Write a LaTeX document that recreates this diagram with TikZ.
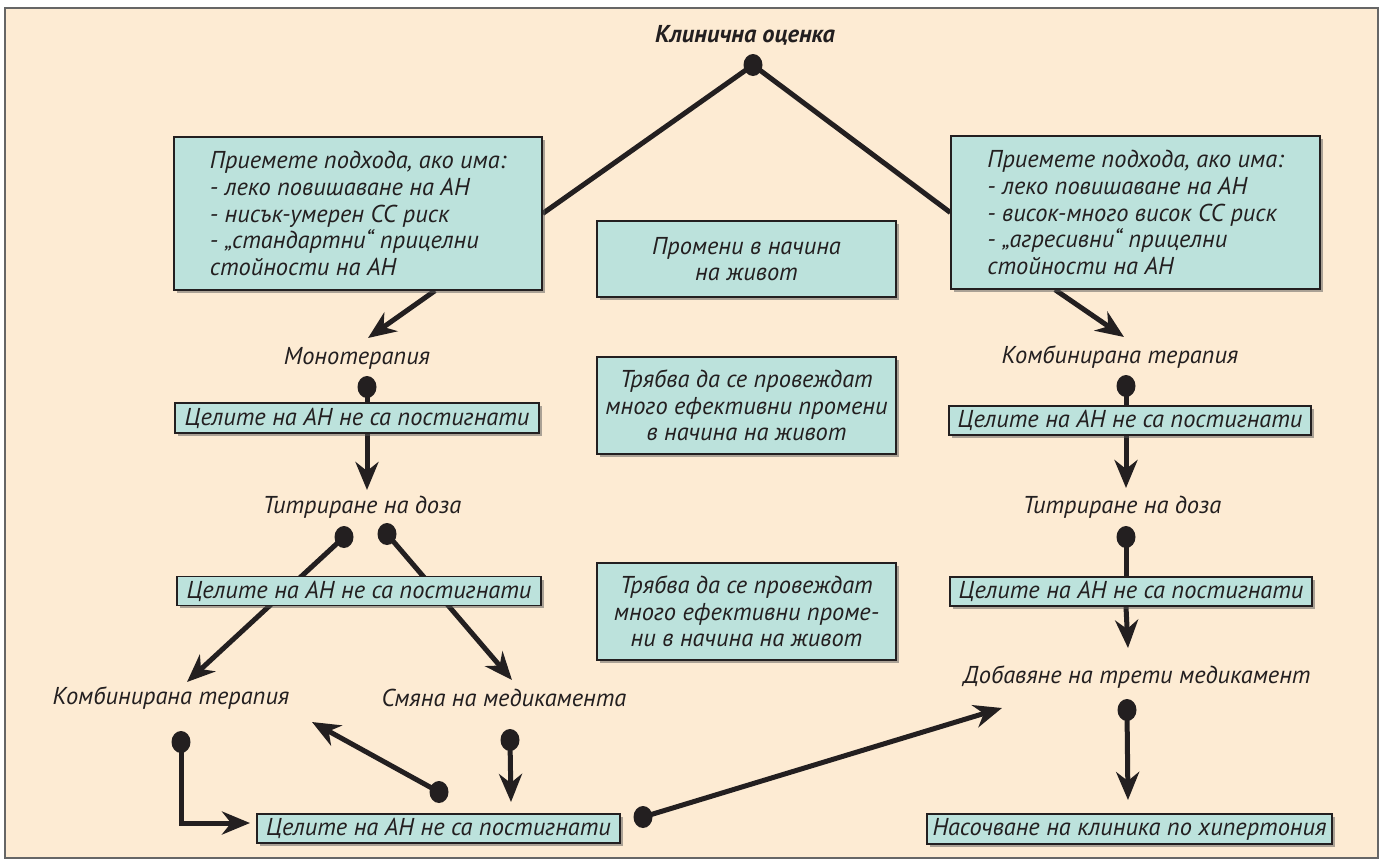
\documentclass[tikz,border=0pt]{standalone}
\usepackage{fontspec}
\setmainfont{PT Sans}
\usetikzlibrary{arrows.meta,shapes.geometric,shadows}
\definecolor{peach}{RGB}{253,235,211}
\definecolor{boxteal}{RGB}{188,226,220}
\definecolor{ink}{RGB}{35,31,32}
\newcommand{\flowsize}{\fontsize{12.2}{13.3}\selectfont}
\pgfdeclarelayer{back}
\pgfdeclarelayer{wires}
\pgfsetlayers{back,wires,main}
\tikzstyle{goalbox} = [draw=ink, fill=boxteal, line width=0.7pt, rectangle,
    drop shadow={shadow xshift=1.5pt, shadow yshift=-1.5pt, fill=black!65},
    inner sep=2pt, text=ink, font=\itshape\flowsize]
\tikzstyle{bigbox} = [goalbox, align=left]
\tikzstyle{lifebox} = [goalbox, align=center, minimum width=149.5pt]
\tikzstyle{stage} = [text=ink, font=\itshape\flowsize]
\tikzstyle{headline} = [text=ink, font=\bfseries\itshape\flowsize]
\tikzstyle{dot} = [ellipse, fill=ink, minimum width=9.5pt, minimum height=11pt, inner sep=0pt]
\tikzstyle{link} = [draw=ink, line width=2.5pt]
\tikzstyle{arrow} = [link, -{Stealth[length=14pt, width=11.5pt, inset=4.5pt]}]

\begin{document}
\begin{tikzpicture}[x=0.5pt, y=-0.5pt]
    \useasboundingbox (0,0) rectangle (1383,864);
    \begin{pgfonlayer}{back}
        \draw[draw=black!60, line width=0.8pt, fill=peach] (5,8) rectangle (1378,858);
    \end{pgfonlayer}

    % top of the tree
    \node[headline] (eval) at (745,35) {Клинична оценка};
    \node[dot] (top) at (753,65) {};
    \node[bigbox, minimum width=184pt, minimum height=76.5pt] (lowrisk) at (358,213.5) {%
        Приемете подхода, ако има:\\
        - леко повишаване на АН\\
        - нисък-умерен СС риск\\
        - „стандартни“ прицелни\\
        стойности на АН};
    \node[bigbox, minimum width=184.5pt, minimum height=76.5pt] (highrisk) at (1135.5,212.5) {%
        Приемете подхода, ако има:\\
        - леко повишаване на АН\\
        - висок-много висок СС риск\\
        - „агресивни“ прицелни\\
        стойности на АН};

    % middle column
    \node[lifebox, minimum height=38pt] (life1) at (746.5,259) {Промени в начина\\на живот};
    \node[lifebox, minimum height=48.5pt] (life2) at (746.5,405.5) {Трябва да се провеждат\\много ефективни промени\\в начина на живот};
    \node[lifebox, minimum height=48.5pt] (life3) at (746.5,611.5) {Трябва да се провеждат\\много ефективни проме-\\ни в начина на живот};

    % left branch
    \node[stage] (mono) at (357,358) {Монотерапия};
    \node[dot] (d1) at (367,387) {};
    \node[goalbox, minimum width=182pt, minimum height=15pt] (fail1) at (357,418) {Целите на АН не са постигнати};
    \node[stage] (titr1) at (362,507) {Титриране на доза};
    \node[dot] (d2) at (344,537) {};
    \node[dot] (d3) at (387,534) {};
    \node[goalbox, minimum width=182pt, minimum height=14pt] (fail2) at (359,591) {Целите на АН не са постигнати};
    \node[stage] (combo1) at (171,698) {Комбинирана терапия};
    \node[stage] (switch) at (504,698) {Смяна на медикамента};
    \node[dot] (d4) at (181,742) {};
    \node[dot] (d5) at (439,792) {};
    \node[dot] (d6) at (510,740) {};
    \node[goalbox, minimum width=181.5pt, minimum height=14.5pt] (fail3) at (438.5,828.5) {Целите на АН не са постигнати};
    \node[dot] (d7) at (643,817) {};

    % right branch
    \node[stage] (combo2) at (1120,357) {Комбинирана терапия};
    \node[dot] (d8) at (1126,386) {};
    \node[goalbox, minimum width=181pt, minimum height=14.5pt] (fail4) at (1130,420.5) {Целите на АН не са постигнати};
    \node[stage] (titr2) at (1122,507) {Титриране на доза};
    \node[dot] (d9) at (1126,537) {};
    \node[goalbox, minimum width=181pt, minimum height=14.5pt] (fail5) at (1131,591.5) {Целите на АН не са постигнати};
    \node[stage] (third) at (1137,677) {Добавяне на трети медикамент};
    \node[dot] (d10) at (1127,710) {};
    \node[goalbox, minimum width=202.5pt, minimum height=14pt] (clinic) at (1129.5,829) {Насочване на клиника по хипертония};

    % free arrow ends
    \coordinate (monotip) at (368,338);
    \coordinate (combotip) at (1124,337);
    \coordinate (titrtip1) at (367,490);
    \coordinate (titrtip2) at (1126,488);
    \coordinate (leftip) at (187,682);
    \coordinate (swtip) at (512,680);
    \coordinate (backtip) at (312,722);
    \coordinate (downtip) at (511,802);
    \coordinate (elbowtip) at (250,823);
    \coordinate (thirdtip) at (1128,648);
    \coordinate (diagtip) at (1002,708);
    \coordinate (clinictip) at (1128,800);

    \begin{pgfonlayer}{wires}
        \draw[link] (top.center) -- (lowrisk.east);
        \draw[link] (top.center) -- (highrisk.west);
        \draw[arrow] ([xshift=38.5pt]lowrisk.south) -- (monotip);
        \draw[arrow] ([xshift=-40.25pt]highrisk.south) -- (combotip);
        \draw[link] (d1.center) -- (fail1.north -| d1);
        \draw[arrow] (fail1.south -| d1) -- (titrtip1);
        \draw[arrow] (d2.center) -- (leftip);
        \draw[arrow] (d3.center) -- (swtip);
        \draw[arrow] (d4.center) |- (elbowtip);
        \draw[arrow] (d5.center) -- (backtip);
        \draw[arrow] (d6.center) -- (downtip);
        \draw[arrow] (d7.center) -- (diagtip);
        \draw[link] (d8.center) -- (fail4.north -| d8);
        \draw[arrow] (fail4.south -| d8) -- (titrtip2);
        \draw[link] (d9.center) -- (fail5.north -| d9);
        \draw[arrow] (fail5.south -| d9) -- (thirdtip);
        \draw[arrow] (d10.center) -- (clinictip);
    \end{pgfonlayer}
\end{tikzpicture}
\end{document}
